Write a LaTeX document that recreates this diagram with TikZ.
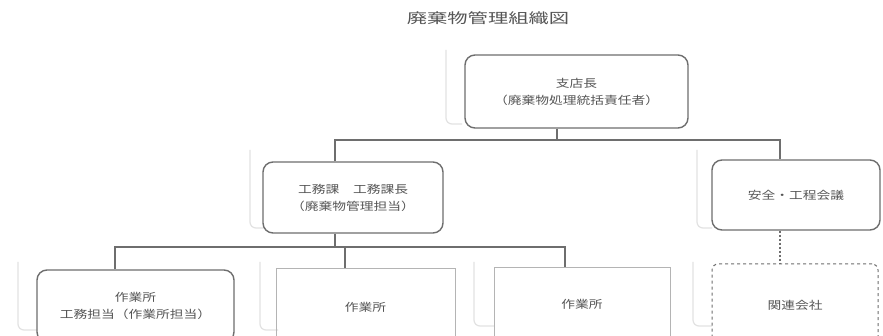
\documentclass[tikz,border=0pt]{standalone}
\usepackage{fontspec}
\newfontfamily\jp{Noto Sans CJK JP}
\newcommand\wt[1]{\scalebox{1.25}[1]{#1}}
\newcommand\wtt[1]{\scalebox{1.45}[1]{#1}}
\definecolor{linegray}{HTML}{6E6E6E}
\definecolor{fadegray}{HTML}{B4B4B4}
\definecolor{ghost}{HTML}{E2E2E2}
\definecolor{txtgray}{HTML}{555555}
\tikzset{
  box/.style={draw=linegray, line width=1.4pt, rounded corners=10pt, align=center,
    font=\jp\fontsize{11}{17}\selectfont, text=txtgray, inner sep=0pt},
  fadebox/.style={draw=fadegray, line width=0.8pt, align=center,
    font=\jp\fontsize{11}{17}\selectfont, text=txtgray, inner sep=0pt},
  dashbox/.style={draw=linegray, line width=1pt, dashed, rounded corners=6pt, align=center,
    font=\jp\fontsize{11}{17}\selectfont, text=txtgray, inner sep=0pt},
  conn/.style={draw=linegray, line width=1.4pt},
  dotconn/.style={draw=linegray, line width=2pt, dotted},
  ghostline/.style={draw=ghost, line width=1.2pt, rounded corners=6pt},
}
\begin{document}
\begin{tikzpicture}[x=1pt,y=-1pt]
\clip (0,0) rectangle (883,336);
\fill[white] (0,0) rectangle (883,336);
% faint ghost outlines
\draw[ghostline] (446,50) -- (446,124) -- (462,124);
\draw[ghostline] (250,150) -- (250,228) -- (265,228);
\draw[ghostline] (697,150) -- (697,228) -- (712,228);
\draw[ghostline] (18,262) -- (18,330) -- (37,330);
\draw[ghostline] (260,262) -- (260,330) -- (278,330);
\draw[ghostline] (474,262) -- (474,326) -- (494,326);
\draw[ghostline] (693,262) -- (693,326) -- (712,326);
% title
\node[font=\jp\fontsize{14}{16}\selectfont, text=txtgray] (title) at (488,18) {\wtt{廃棄物管理組織図}};
% boxes
\node[box, minimum width=223pt, minimum height=73pt] (top) at (576.5,91.5)
  {\wt{支店長}\\\wt{（廃棄物処理統括責任者）}};
\node[box, minimum width=180pt, minimum height=71pt] (mid) at (353,197.5)
  {\wt{工務課　工務課長}\\\wt{（廃棄物管理担当）}};
\node[box, minimum width=168pt, minimum height=70pt] (safe) at (796,195)
  {\wt{安全・工程会議}};
\node[box, minimum width=197pt, minimum height=72pt] (w1) at (135.5,306)
  {\wt{作業所}\\\wt{工務担当（作業所担当）}};
\node[fadebox, minimum width=179pt, minimum height=78pt] (w2) at (365.5,307)
  {\wt{作業所}};
\node[fadebox, minimum width=176pt, minimum height=74pt] (w3) at (582,304)
  {\wt{作業所}};
\node[dashbox, minimum width=166pt, minimum height=82pt] (rel) at (795,305)
  {\wt{関連会社}};
% connectors: top level
\coordinate (j0) at (557,140);
\coordinate (jl) at (335,140);
\coordinate (jr) at (780,140);
\draw[conn] (top.south -| j0) -- (j0);
\draw[conn] (jl |- mid.north) -- (jl) -- (jr) -- (jr |- safe.north);
% dotted to related companies
\draw[dotconn] (safe.south -| jr) -- (rel.north -| jr);
% connectors: second level
\coordinate (k0) at (335,247);
\coordinate (k1) at (115,247);
\coordinate (k2) at (345,247);
\coordinate (k3) at (565,247);
\draw[conn] (mid.south -| k0) -- (k0);
\draw[conn] (k1 |- w1.north) -- (k1) -- (k3) -- (k3 |- w3.north);
\draw[conn] (k2) -- (k2 |- w2.north);
\end{tikzpicture}
\end{document}
